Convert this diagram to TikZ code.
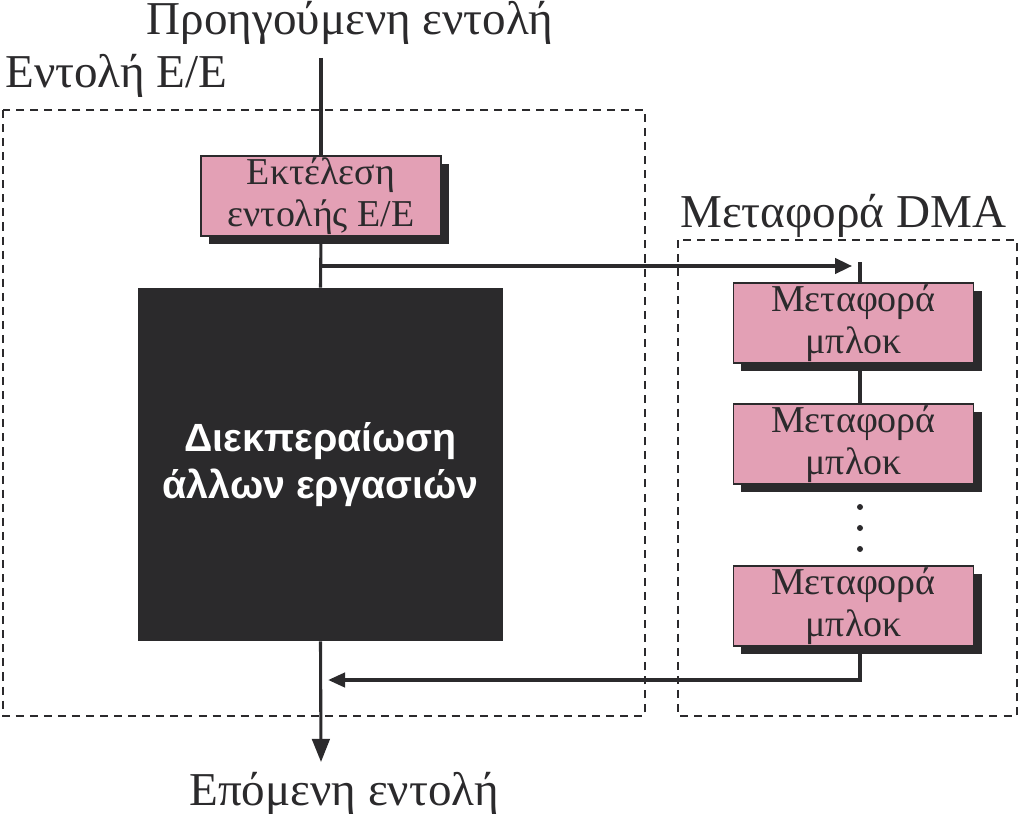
\documentclass[tikz,border=0pt]{standalone}
\usepackage{fontspec}
\setmainfont{Liberation Serif}
\newfontfamily\blocksans{Liberation Sans}
\usepackage{xcolor}
\usepackage{tikz}
\usetikzlibrary{positioning, shadows, arrows.meta}
\definecolor{inkdark}{RGB}{43,42,44}
\definecolor{pinkbox}{RGB}{227,160,181}

\begin{document}
\begin{tikzpicture}[x=0.025cm, y=-0.025cm]
	\tikzstyle{task}=[rectangle, draw=inkdark, line width=0.8pt, fill=pinkbox, text=inkdark,
		minimum width=6cm, minimum height=2cm, align=center, inner sep=0pt,
		font=\fontsize{27}{30}\selectfont,
		drop shadow={shadow xshift=0.2cm, shadow yshift=-0.2cm, opacity=1, fill=inkdark}]
	\tikzstyle{busy}=[rectangle, fill=inkdark, text=white, minimum width=9.125cm,
		minimum height=8.825cm, align=center, font=\blocksans\bfseries\fontsize{28}{33}\selectfont]
	\tikzstyle{flow}=[draw=inkdark, line width=2.2pt]
	\tikzstyle{frame}=[draw=inkdark, line width=0.9pt, dash pattern=on 5.7pt off 4.3pt]
	\tikzstyle{caption}=[inner sep=0pt, text=inkdark, font=\fontsize{33.5}{38}\selectfont]
	\useasboundingbox (0,0) rectangle (1019,814);
	% frames
	\draw[frame] (3,110) rectangle (645,716);
	\draw[frame] (678,240) rectangle (1017,716);
	\node[caption, anchor=base west](iolabel) at (5,88) {Εντολή Ε/Ε};
	\node[caption, anchor=base west](dmalabel) at (680,228) {Μεταφορά DMA};
	\node[caption, anchor=base](prev) at (350,35) {Προηγούμενη εντολή};
	\node[caption, anchor=base](next) at (344,805) {Επόμενη εντολή};
	% main flow
	\coordinate (start) at (321,58);
	\coordinate (stop) at (321,762);
	\coordinate (fork) at (321,266);
	\coordinate (dmaline) at (860,262);
	\coordinate (back) at (860,680);
	\node[task](exec) at (321,196) {Εκτέλεση\\εντολής Ε/Ε};
	\node[busy](other) at (320.5,464.5) {Διεκπεραίωση\\άλλων εργασιών};
	\node[task](dma1) at (853.5,323) {Μεταφορά\\μπλοκ};
	\node[task](dma2) at (853.5,444) {Μεταφορά\\μπλοκ};
	\node[task](dma3) at (853.5,606) {Μεταφορά\\μπλοκ};
	\draw[flow] (start) -- (exec.north);
	\draw[flow] (exec.south) -- (other.north);
	\draw[flow, -{Triangle[length=0.58cm, width=0.44cm]}] (other.south) -- (stop);
	\draw[flow, -{Triangle[length=0.42cm, width=0.38cm]}, shorten >=0.2cm] (fork) -- (fork -| dmaline);
	\draw[flow] (dmaline) -- (dma1.north -| dmaline);
	\draw[flow] (dma1.south -| dmaline) -- (dma2.north -| dmaline);
	\draw[flow, -{Triangle[length=0.42cm, width=0.36cm]}, shorten >=0.18cm]
		(dma3.south -| dmaline) -- (back) -- (back -| start);
	\foreach \y in {507,528,549}
		\fill[inkdark] (860,\y) circle (3);
\end{tikzpicture}
\end{document}
